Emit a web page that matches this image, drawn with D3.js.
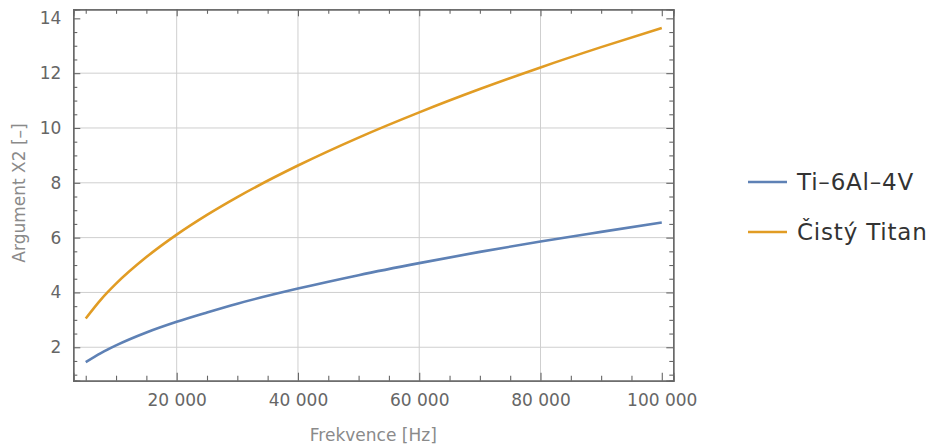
<!DOCTYPE html>
<html>
<head>
<meta charset="utf-8">
<script src="https://cdn.jsdelivr.net/npm/d3@7"></script>
<style>
    body { margin: 0; background: #fff; }
    svg { display: block; font-family: "DejaVu Sans", sans-serif; }
</style>
</head>
<body>
<svg id="chart" width="929" height="446"></svg>
<script>
// hodnoty
const frequencies = [5000, 7500, 10000, 15000, 20000, 25000, 30000, 40000, 50000, 60000, 70000, 80000, 90000, 100000];
const tiAlloy = [1.46, 1.79, 2.07, 2.54, 2.93, 3.27, 3.59, 4.14, 4.63, 5.07, 5.48, 5.86, 6.21, 6.55];
const pureTitan = [3.05, 3.74, 4.32, 5.29, 6.11, 6.83, 7.48, 8.63, 9.65, 10.57, 11.42, 12.21, 12.95, 13.65];

const seriesNames = ["Ti\u20136Al\u20134V", "\u010cist\u00fd Titan"];
const seriesColors = ["#5E81B5", "#E19C24"];

const xMajor = [20000, 40000, 60000, 80000, 100000];
const xMinor = d3.range(5000, 100001, 5000).filter(v => v % 20000 !== 0);
const yMajor = [2, 4, 6, 8, 10, 12, 14];
const yMinor = d3.range(1, 14.01, 0.5).filter(v => v % 2 !== 0);
const xGrid = [20000, 40000, 60000, 80000];
const yGrid = [2, 4, 6, 8, 10, 12];

const xLabel = "Frekvence [Hz]";
const yLabel = "Argument X2 [\u2013]";

const margin = { left: 73.3, right: 929 - 673.3, top: 9.3, bottom: 446 - 380.7 };
const svg = d3.select("#chart");
const width = 929, height = 446;

const x = d3.scaleLinear().domain([2950, 101900]).range([margin.left, width - margin.right]);
const y = d3.scaleLinear().domain([0.78, 14.33]).range([height - margin.bottom, margin.top]);

const fmt = v => d3.format(",")(v).replace(/,/g, " ");

const plotBottom = y.range()[0], plotTop = y.range()[1];
const plotLeft = x.range()[0], plotRight = x.range()[1];

// mřížka
const grid = svg.append("g").attr("stroke", "#cfcfcf").attr("stroke-width", 1);
grid.selectAll(".gx").data(xGrid).enter().append("line")
    .attr("x1", d => x(d)).attr("x2", d => x(d))
    .attr("y1", plotTop).attr("y2", plotBottom);
grid.selectAll(".gy").data(yGrid).enter().append("line")
    .attr("y1", d => y(d)).attr("y2", d => y(d))
    .attr("x1", plotLeft).attr("x2", plotRight);

// rámeček s tiky dovnitř
function frameAxis(axis, transform, labels) {
    const g = svg.append("g").attr("transform", transform).call(axis);
    g.select(".domain").attr("stroke", "#666").attr("stroke-width", 1.3);
    g.selectAll(".tick line").attr("stroke", "#666").attr("stroke-width", 1.1);
    g.selectAll("text").attr("fill", "#666").attr("font-size", "17px");
    if (!labels) g.selectAll("text").remove();
    g.attr("font-family", null);
    return g;
}

frameAxis(d3.axisBottom(x).tickValues(xMajor).tickSize(-8).tickPadding(13).tickFormat(fmt), `translate(0,${plotBottom})`, true);
frameAxis(d3.axisBottom(x).tickValues(xMinor).tickSize(-5).tickFormat(""), `translate(0,${plotBottom})`, false);
frameAxis(d3.axisTop(x).tickValues(xMajor).tickSize(-7).tickFormat(""), `translate(0,${plotTop})`, false);
frameAxis(d3.axisTop(x).tickValues(xMinor).tickSize(-4.5).tickFormat(""), `translate(0,${plotTop})`, false);
frameAxis(d3.axisLeft(y).tickValues(yMajor).tickSize(-7).tickPadding(12), `translate(${plotLeft},0)`, true);
frameAxis(d3.axisLeft(y).tickValues(yMinor).tickSize(-4).tickFormat(""), `translate(${plotLeft},0)`, false);
frameAxis(d3.axisRight(y).tickValues(yMajor).tickSize(-7).tickFormat(""), `translate(${plotRight},0)`, false);
frameAxis(d3.axisRight(y).tickValues(yMinor).tickSize(-4).tickFormat(""), `translate(${plotRight},0)`, false);

// křivky
const line = d3.line()
    .x(d => x(d[0]))
    .y(d => y(d[1]))
    .curve(d3.curveMonotoneX);

[tiAlloy, pureTitan].forEach((vals, i) => {
    svg.append("path")
        .datum(frequencies.map((f, j) => [f, vals[j]]))
        .attr("fill", "none")
        .attr("stroke", seriesColors[i])
        .attr("stroke-width", 2.6)
        .attr("d", line);
});

// popisky os
svg.append("text")
    .attr("x", (plotLeft + plotRight) / 2)
    .attr("y", 441)
    .attr("text-anchor", "middle")
    .attr("font-size", "17px")
    .attr("fill", "#8a8a8a")
    .text(xLabel);

svg.append("text")
    .attr("transform", "translate(25,193) rotate(-90)")
    .attr("text-anchor", "middle")
    .attr("font-size", "17px")
    .attr("fill", "#8a8a8a")
    .text(yLabel);

// legenda
const legend = svg.append("g");
seriesNames.forEach((name, i) => {
    const ly = 182 + i * 50;
    legend.append("line")
        .attr("x1", 748).attr("x2", 787)
        .attr("y1", ly).attr("y2", ly)
        .attr("stroke", seriesColors[i])
        .attr("stroke-width", 2.6);
    legend.append("text")
        .attr("x", 797)
        .attr("y", ly + 8)
        .attr("font-size", "23px")
        .attr("letter-spacing", "0.8px")
        .attr("fill", "#333")
        .text(name);
});
</script>
</body>
</html>
